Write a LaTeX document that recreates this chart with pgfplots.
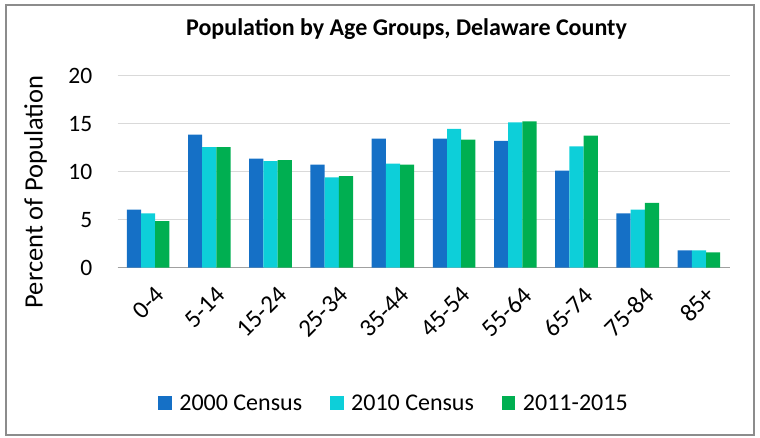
\documentclass[border=0pt]{standalone}
\usepackage{pgfplots}
\pgfplotsset{compat=1.18}
\usepackage{fontspec}
\setmainfont{Carlito}
\definecolor{cblue}{HTML}{1570C6}
\definecolor{ccyan}{HTML}{0DCFD9}
\definecolor{cgreen}{HTML}{00AF51}
\definecolor{gridc}{HTML}{D9D9D9}
\definecolor{axc}{HTML}{A0A0A0}
\definecolor{borderc}{HTML}{8C8C8C}
\begin{document}
\begin{tikzpicture}
\path (0pt,0pt) rectangle (760pt,437pt);
\draw[borderc, line width=1.5pt] (6pt,2pt) rectangle (754pt,432pt);
\begin{axis}[
  at={(117.5pt,169.3pt)}, anchor=south west,
  scale only axis, width=612pt, height=192pt,
  ybar=0pt,
  bar width=0.232,
  xmin=-0.5, xmax=9.5,
  ymin=0, ymax=20,
  ytick={0,5,10,15,20},
  xtick={0,...,9},
  xticklabels={0-4,5-14,15-24,25-34,35-44,45-54,55-64,65-74,75-84,85+},
  axis x line=bottom, axis y line=left,
  axis line style={-},
  x axis line style={axc, line width=1.5pt},
  y axis line style={draw=none},
  ymajorgrids,
  grid style={gridc, line width=1.5pt},
  major tick length=0pt,
  ytick style={draw=none}, xtick style={draw=none},
  /pgf/number format/assume math mode=true,
  yticklabel style={font=\fontsize{23.5}{28}\selectfont, inner sep=0pt, anchor=east, xshift=-25pt},
  xticklabel style={font=\fontsize{25}{30}\selectfont, inner sep=0pt, rotate=45, anchor=east, yshift=-25pt, xshift=-8pt},
  legend columns=3,
  legend style={draw=none, fill=none, at={(0.4518,-0.7047)}, anchor=center, font=\fontsize{24}{28}\selectfont,
    /tikz/every even column/.append style={column sep=26pt}},
  legend cell align=left,
  legend image code/.code={\fill[#1, draw=none] (0pt,-6.75pt) rectangle (13.5pt,6.75pt); \path (19pt,0pt);},
]
\addplot[fill=cblue, draw=none, bar shift=-0.232] coordinates {(0,6.05) (1,13.85) (2,11.35) (3,10.75) (4,13.45) (5,13.45) (6,13.2) (7,10.1) (8,5.65) (9,1.8)};
\addplot[fill=ccyan, draw=none, bar shift=0] coordinates {(0,5.65) (1,12.55) (2,11.1) (3,9.4) (4,10.85) (5,14.45) (6,15.15) (7,12.65) (8,6.05) (9,1.8)};
\addplot[fill=cgreen, draw=none, bar shift=0.232] coordinates {(0,4.85) (1,12.55) (2,11.2) (3,9.55) (4,10.75) (5,13.35) (6,15.25) (7,13.75) (8,6.75) (9,1.6)};
\legend{2000 Census,2010 Census,2011-2015}
\end{axis}
\node[anchor=base, font=\fontsize{24}{28}\selectfont\bfseries] at (406.5pt,401pt) {Population by Age Groups, Delaware County};
\node[anchor=base, rotate=90, font=\fontsize{26.5}{30}\selectfont, inner sep=0pt] at (42.7pt,245pt) {Percent of Population};
\end{tikzpicture}
\end{document}
